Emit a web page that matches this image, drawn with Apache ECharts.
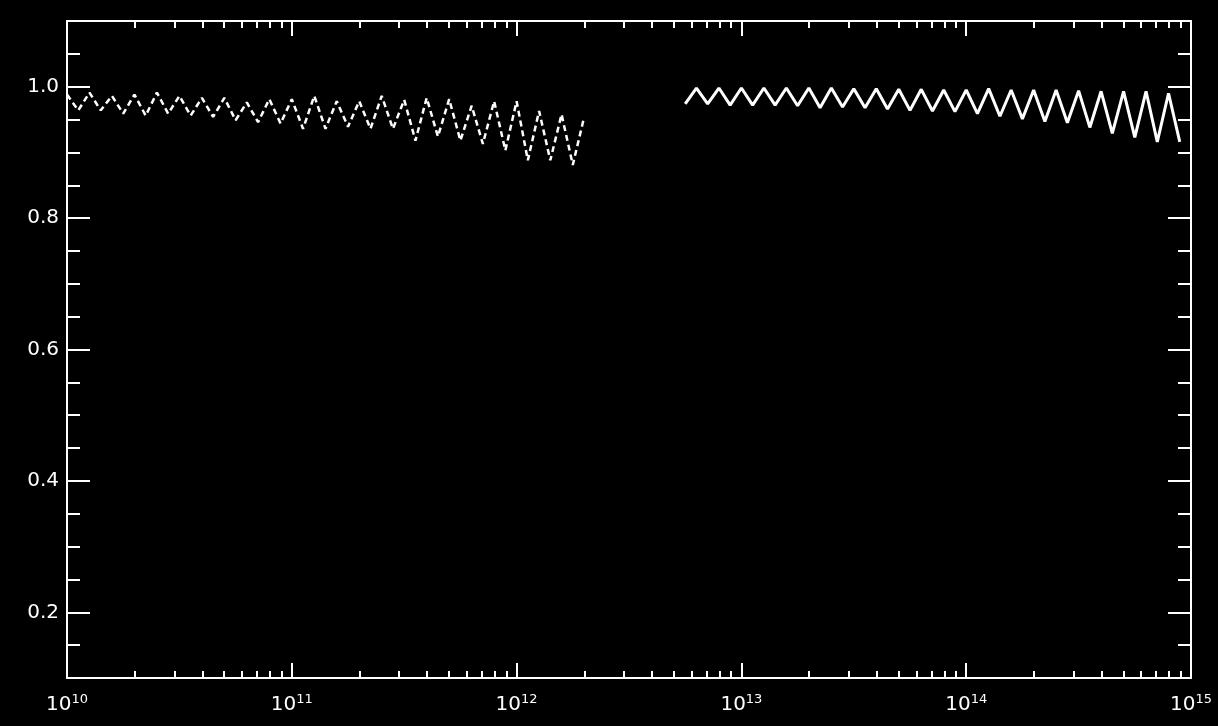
<!DOCTYPE html>
<html>
<head>
<meta charset="utf-8">
<script src="https://cdn.jsdelivr.net/npm/echarts@6/dist/echarts.min.js"></script>
<style>
html,body{margin:0;padding:0;background:#000;}
#c{width:1218px;height:726px;}
</style>
</head>
<body>
<div id="c"></div>
<script>
// Series 1 (dashed): exponents of x and values
const s1Exp = [10.00,10.05,10.10,10.15,10.20,10.25,10.30,10.35,10.40,10.45,10.50,10.55,10.60,10.65,10.70,10.75,10.80,10.85,10.90,10.95,11.00,11.05,11.10,11.15,11.20,11.25,11.30,11.35,11.40,11.45,11.50,11.55,11.60,11.65,11.70,11.75,11.80,11.85,11.90,11.95,12.00,12.05,12.10,12.15,12.20,12.25,12.30];
const s1Val = [0.988,0.964,0.991,0.964,0.986,0.959,0.988,0.956,0.991,0.959,0.986,0.956,0.983,0.954,0.983,0.949,0.976,0.946,0.981,0.944,0.981,0.936,0.986,0.936,0.978,0.939,0.978,0.936,0.986,0.936,0.980,0.918,0.983,0.924,0.981,0.918,0.971,0.913,0.978,0.903,0.978,0.888,0.963,0.888,0.958,0.881,0.953];
// Series 2 (solid)
const s2Exp = [12.75,12.80,12.85,12.90,12.95,13.00,13.05,13.10,13.15,13.20,13.25,13.30,13.35,13.40,13.45,13.50,13.55,13.60,13.65,13.70,13.75,13.80,13.85,13.90,13.95,14.00,14.05,14.10,14.15,14.20,14.25,14.30,14.35,14.40,14.45,14.50,14.55,14.60,14.65,14.70,14.75,14.80,14.85,14.90,14.95];
const s2Val = [0.974,0.998,0.974,0.998,0.972,0.998,0.972,0.998,0.972,0.998,0.971,0.998,0.968,0.998,0.969,0.997,0.968,0.997,0.966,0.996,0.964,0.996,0.963,0.995,0.962,0.995,0.959,0.997,0.955,0.995,0.951,0.995,0.947,0.995,0.945,0.994,0.938,0.993,0.929,0.993,0.923,0.993,0.916,0.990,0.916];
// Tick values
const xMajor = [1e10,1e11,1e12,1e13,1e14,1e15];
const xMinor = [2e10,3e10,4e10,5e10,6e10,7e10,8e10,9e10,
                2e11,3e11,4e11,5e11,6e11,7e11,8e11,9e11,
                2e12,3e12,4e12,5e12,6e12,7e12,8e12,9e12,
                2e13,3e13,4e13,5e13,6e13,7e13,8e13,9e13,
                2e14,3e14,4e14,5e14,6e14,7e14,8e14,9e14];
const yMajor = [0.2,0.4,0.6,0.8,1.0];
const yMinor = [0.15,0.25,0.3,0.35,0.45,0.5,0.55,0.65,0.7,0.75,0.85,0.9,0.95,1.05];

const WHITE = '#ffffff';
const FONT = 'DejaVu Sans';

function xAx(pos, ticks, len, showLine, showLabel){
  return {
    type:'log', logBase:10, min:1e10, max:1.000001e15, position:pos,
    axisLine:{show:showLine, onZero:false, lineStyle:{color:WHITE,width:2}},
    axisTick:{show:true, inside:true, length:len, customValues:ticks, lineStyle:{color:WHITE,width:2}},
    axisLabel:{show:showLabel, customValues:xMajor, margin:15, color:WHITE,
      showMinLabel:true, showMaxLabel:true, hideOverlap:false,
      formatter:function(v){ return '{b|10}{s|' + Math.round(Math.log10(v)) + '}'; },
      rich:{ b:{fontSize:20, fontFamily:FONT, color:WHITE},
             s:{fontSize:13, fontFamily:FONT, color:WHITE, padding:[0,0,11,0]} } },
    splitLine:{show:false}, minorTick:{show:false}, minorSplitLine:{show:false}
  };
}
function yAx(pos, ticks, len, showLine, showLabel){
  return {
    type:'value', min:0.1, max:1.1, position:pos,
    axisLine:{show:showLine, onZero:false, lineStyle:{color:WHITE,width:2}},
    axisTick:{show:true, inside:true, length:len, customValues:ticks, lineStyle:{color:WHITE,width:2}},
    axisLabel:{show:showLabel, customValues:yMajor, margin:8, color:WHITE, fontSize:20, fontFamily:FONT,
      formatter:function(v){ return v.toFixed(1); } },
    splitLine:{show:false}
  };
}

const chart = echarts.init(document.getElementById('c'), null, {renderer:'canvas'});
chart.setOption({
  backgroundColor:'#000000',
  animation:false,
  grid:{left:67, right:27, top:21, bottom:48, containLabel:false},
  xAxis:[
    xAx('bottom', xMajor, 15, true, true),
    xAx('bottom', xMinor, 7, false, false),
    xAx('top', xMajor, 15, true, false),
    xAx('top', xMinor, 7, false, false)
  ],
  yAxis:[
    yAx('left', yMajor, 23, true, true),
    yAx('left', yMinor, 13, false, false),
    yAx('right', yMajor, 23, true, false),
    yAx('right', yMinor, 13, false, false)
  ],
  series:[
    { type:'line', xAxisIndex:0, yAxisIndex:0, showSymbol:false, symbol:'none',
      data:s1Exp.map((e,i)=>[Math.pow(10,e), s1Val[i]]),
      lineStyle:{color:WHITE, width:2.5, type:[6,4]} },
    { type:'line', xAxisIndex:0, yAxisIndex:0, showSymbol:false, symbol:'none',
      data:s2Exp.map((e,i)=>[Math.pow(10,e), s2Val[i]]),
      lineStyle:{color:WHITE, width:3, type:'solid'} }
  ]
});
</script>
</body>
</html>
